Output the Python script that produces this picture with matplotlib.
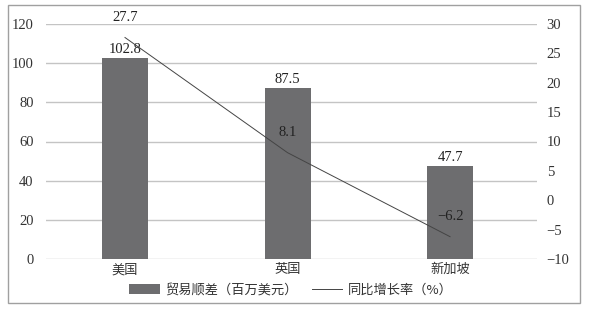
import matplotlib
matplotlib.use("Agg")
import matplotlib.pyplot as plt
from matplotlib.patches import Rectangle, Patch
from matplotlib.lines import Line2D

categories = ["美国", "英国", "新加坡"]
surplus = [102.8, 87.5, 47.7]
growth = [27.7, 8.1, -6.2]
left_ticks = [0, 20, 40, 60, 80, 100, 120]
right_ticks = [-10, -5, 0, 5, 10, 15, 20, 25, 30]
bar_label = "贸易顺差（百万美元）"
line_label = "同比增长率（%）"

serif = ["Liberation Serif", "DejaVu Serif"]
cjk = ["Noto Sans CJK SC", "DejaVu Sans"]

fig = plt.figure(figsize=(5.92, 3.09), dpi=100)
fig.patches.append(Rectangle((8/592, 1-303/309), (580-8)/592, (303-5)/309,
                             transform=fig.transFigure, fill=False,
                             edgecolor="#a0a0a0", linewidth=1.0))
ax = fig.add_axes([46/592, 1-259/309, (537-46)/592, (259-24)/309])
x = list(range(len(categories)))
ax.bar(x, surplus, width=0.283, color="#6d6d6f", zorder=3)
ax.set_xlim(-0.486, 2.535)
ax.set_ylim(0, 120)
ax.set_yticks(left_ticks)
ax.set_yticklabels([str(t) for t in left_ticks], fontfamily=serif, fontsize=10.5, color="#333333")
ax.yaxis.grid(True, color="#c4c4c4", linewidth=1.0, zorder=0)
ax.set_xticks(x)
ax.set_xticklabels(categories, fontfamily=cjk, fontsize=9.5, color="#333333")
ax.tick_params(length=0, pad=9)
ax.tick_params(axis="x", pad=3)
for s in ax.spines.values():
    s.set_visible(False)
for xi, v in zip(x, surplus):
    ax.annotate(f"{v}", (xi, v), xytext=(0, 1.5), textcoords="offset points",
                ha="center", va="bottom", fontfamily=serif, fontsize=10.5, color="#222222", zorder=5)

ax2 = ax.twinx()
ax2.plot(x, growth, color="#444444", linewidth=0.7, zorder=4)
ax2.set_ylim(-10, 30)
ax2.set_yticks(right_ticks)
ax2.set_yticklabels([str(t).replace("-", "\u2212") for t in right_ticks], fontfamily=serif, fontsize=10.5, color="#333333")
ax2.tick_params(length=0, pad=7)
for s in ax2.spines.values():
    s.set_visible(False)
for xi, v in zip(x, growth):
    ax2.annotate(f"{v}".replace("-", "\u2212"), (xi, v), xytext=(0, 10), textcoords="offset points",
                 ha="center", va="bottom", fontfamily=serif, fontsize=10.5, color="#222222", zorder=5)

handles = [Patch(facecolor="#6d6d6f"), Line2D([0], [0], color="#444444", linewidth=0.7)]
leg = fig.legend(handles, [bar_label, line_label], loc="center", bbox_to_anchor=(291/592, 1-290/309),
                 ncol=2, frameon=False, prop={"family": cjk, "size": 9.5}, handlelength=2.3,
                 handleheight=0.7, columnspacing=1.1, handletextpad=0.4)
for t in leg.get_texts():
    t.set_color("#333333")

fig.savefig("out.png", dpi=100)
